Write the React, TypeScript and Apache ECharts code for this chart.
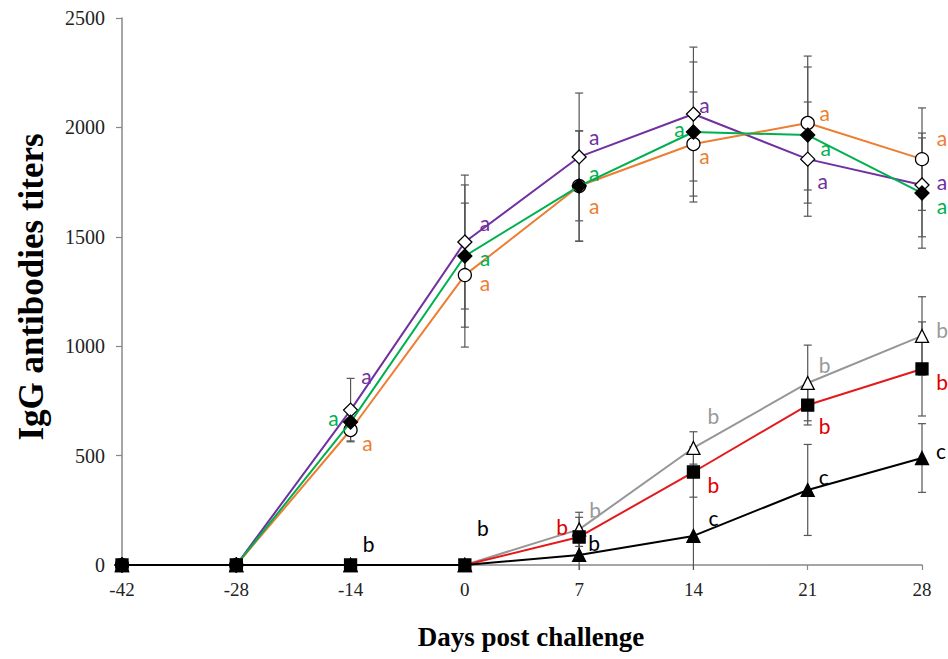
import React, { useEffect, useRef } from "react";
import * as echarts from "echarts";

const days = ["-42", "-28", "-14", "0", "7", "14", "21", "28"];

const purpleVals = [0, 0, 708, 1476, 1865, 2061, 1855, 1737];
const purpleErr = [0, 0, 145, 306, 292, 306, 261, 237];
const purpleLetters = ["", "", "a", "a", "a", "a", "a", "a"];

const greenVals = [0, 0, 653, 1412, 1732, 1979, 1965, 1700];
const greenErr = [0, 0, 50, 325, 252, 320, 311, 252];
const greenLetters = ["", "", "a", "a", "a", "a", "a", "a"];

const orangeVals = [0, 0, 617, 1325, 1732, 1924, 2020, 1855];
const orangeErr = [0, 0, 50, 329, 252, 238, 306, 234];
const orangeLetters = ["", "", "a", "a", "a", "a", "a", "a"];

const grayVals = [0, 0, 0, 0, 163, 535, 832, 1047];
const grayErr = [0, 0, 0, 0, 78, 74, 173, 179];
const grayLetters = ["", "", "", "", "b", "b", "b", "b"];

const redVals = [0, 0, 0, 0, 128, 425, 731, 896];
const redErr = [0, 0, 0, 0, 90, 115, 91, 215];
const redLetters = ["", "", "", "", "b", "b", "b", "b"];

const blackVals = [0, 0, 0, 0, 46, 133, 343, 489];
const blackErr = [0, 0, 0, 0, 70, 300, 208, 157];
const blackLetters = ["", "", "b", "b", "b", "c", "c", "c"];

// label placement (layout only)
const purpleOff = [null, null, [16, -35], [20, -20], [15, -20], [11, -10], [15, 21], [20, -3]];
const greenOff = [null, null, [-17, -5], [20, 1], [15, -14], [-14, -3], [18, 12], [20, 12]];
const orangeOff = [null, null, [17, 12], [20, 7], [15, 19], [11, 11], [17, -11], [20, -22]];
const grayOff = [null, null, null, null, [16, -20], [20, -32], [17, -18], [20, -6]];
const redOff = [null, null, null, null, [-17, -10], [20, 12], [17, 20], [20, 13]];
const blackOff = [null, null, [18, -22], [18, -38], [15, -12], [20, -18], [16, -13], [19, -8]];

const serif = "'Liberation Serif', 'Times New Roman', serif";
const letterFont = "Lato, 'Noto Sans', sans-serif";

type SeriesDef = {
  name: string;
  vals: number[];
  err: number[];
  letters: string[];
  off: (number[] | null)[];
  lineColor: string;
  letterColor: string;
  symbol: string;
  symbolSize: number;
  fill: string;
};

const defs: SeriesDef[] = [
  { name: "purple", vals: purpleVals, err: purpleErr, letters: purpleLetters, off: purpleOff, lineColor: "#7030A0", letterColor: "#7030A0", symbol: "diamond", symbolSize: 14, fill: "#ffffff" },
  { name: "orange", vals: orangeVals, err: orangeErr, letters: orangeLetters, off: orangeOff, lineColor: "#ED7D31", letterColor: "#ED7D31", symbol: "circle", symbolSize: 13, fill: "#ffffff" },
  { name: "green", vals: greenVals, err: greenErr, letters: greenLetters, off: greenOff, lineColor: "#00B050", letterColor: "#00B050", symbol: "diamond", symbolSize: 14, fill: "#000000" },
  { name: "gray", vals: grayVals, err: grayErr, letters: grayLetters, off: grayOff, lineColor: "#969696", letterColor: "#9A9A9A", symbol: "triangle", symbolSize: 13, fill: "#ffffff" },
  { name: "red", vals: redVals, err: redErr, letters: redLetters, off: redOff, lineColor: "#E31A1C", letterColor: "#E00000", symbol: "rect", symbolSize: 12, fill: "#000000" },
  { name: "black", vals: blackVals, err: blackErr, letters: blackLetters, off: blackOff, lineColor: "#000000", letterColor: "#000000", symbol: "triangle", symbolSize: 13, fill: "#000000" },
];

export default function App() {
  const ref = useRef<HTMLDivElement>(null);
  useEffect(() => {
    document.body.style.margin = "0";
    if (!ref.current) return;
    const chart = echarts.init(ref.current, undefined, { renderer: "svg" });

    const errorSeries = defs.map((d) => ({
      type: "custom",
      name: d.name + "-err",
      z: 1,
      silent: true,
      encode: { x: 0, y: [1, 2] },
      data: d.vals
        .map((v, i) => [i, v - d.err[i], v + d.err[i]])
        .filter((r, i) => d.err[i] > 0),
      renderItem: (params: any, api: any) => {
        const x = api.value(0);
        const lo = api.value(1);
        const hi = api.value(2);
        const top = api.coord([x, hi]);
        const bot = api.coord([x, Math.max(lo, 0)]);
        const cap = 4;
        const style = { stroke: "#555555", lineWidth: 1.2 };
        const children: any[] = [
          { type: "line", shape: { x1: top[0], y1: top[1], x2: bot[0], y2: lo < 0 ? bot[1] + 5 : bot[1] }, style },
          { type: "line", shape: { x1: top[0] - cap, y1: top[1], x2: top[0] + cap, y2: top[1] }, style },
        ];
        if (lo >= 0) {
          children.push({ type: "line", shape: { x1: bot[0] - cap, y1: bot[1], x2: bot[0] + cap, y2: bot[1] }, style });
        }
        return { type: "group", children };
      },
    }));

    const lineSeries = defs.map((d, si) => ({
      type: "line",
      name: d.name,
      z: 3 + si,
      symbol: d.symbol,
      symbolSize: d.symbolSize,
      showAllSymbol: true,
      lineStyle: { color: d.lineColor, width: 2 },
      itemStyle: { color: d.fill, borderColor: "#000000", borderWidth: 1.3 },
      emphasis: { disabled: true },
      data: d.vals.map((v, i) => {
        const off = d.off[i];
        const letter = d.letters[i];
        return {
          value: v,
          label: letter
            ? {
                show: true,
                formatter: letter,
                position: "inside",
                offset: off || [0, 0],
                align: "center",
                verticalAlign: "middle",
                color: d.letterColor,
                fontFamily: letterFont,
                fontSize: 21,
              }
            : { show: false },
        };
      }),
    }));

    chart.setOption({
      animation: false,
      backgroundColor: "#ffffff",
      grid: { left: 122, right: 26, top: 18, bottom: 94, containLabel: false },
      xAxis: {
        type: "category",
        data: days,
        boundaryGap: false,
        axisLine: { show: true, lineStyle: { color: "#888888", width: 1.5 } },
        axisTick: { show: true, alignWithLabel: true, length: 5, lineStyle: { color: "#888888", width: 1.2 } },
        axisLabel: { fontFamily: serif, fontSize: 19, color: "#222222", margin: 15 },
        splitLine: { show: false },
      },
      yAxis: {
        type: "value",
        min: 0,
        max: 2500,
        interval: 500,
        axisLine: { show: true, lineStyle: { color: "#888888", width: 1.5 } },
        axisTick: { show: true, length: 6, lineStyle: { color: "#888888", width: 1.2 } },
        axisLabel: {
          fontFamily: serif,
          fontSize: 20,
          color: "#222222",
          margin: 17,
          formatter: (v: number) => String(v),
        },
        splitLine: { show: false },
      },
      graphic: [
        {
          type: "text",
          x: 31,
          y: 287,
          rotation: Math.PI / 2,
          style: {
            text: "IgG antibodies titers",
            fontFamily: serif,
            fontWeight: "bold",
            fontSize: 35,
            fill: "#000000",
            align: "center",
            verticalAlign: "middle",
          },
        },
        {
          type: "text",
          x: 531,
          y: 637,
          style: {
            text: "Days post challenge",
            fontFamily: serif,
            fontWeight: "bold",
            fontSize: 27,
            fill: "#000000",
            align: "center",
            verticalAlign: "middle",
          },
        },
      ],
      series: [...errorSeries, ...lineSeries],
    });
    return () => chart.dispose();
  }, []);
  return <div ref={ref} style={{ width: 948, height: 659 }} />;
}
